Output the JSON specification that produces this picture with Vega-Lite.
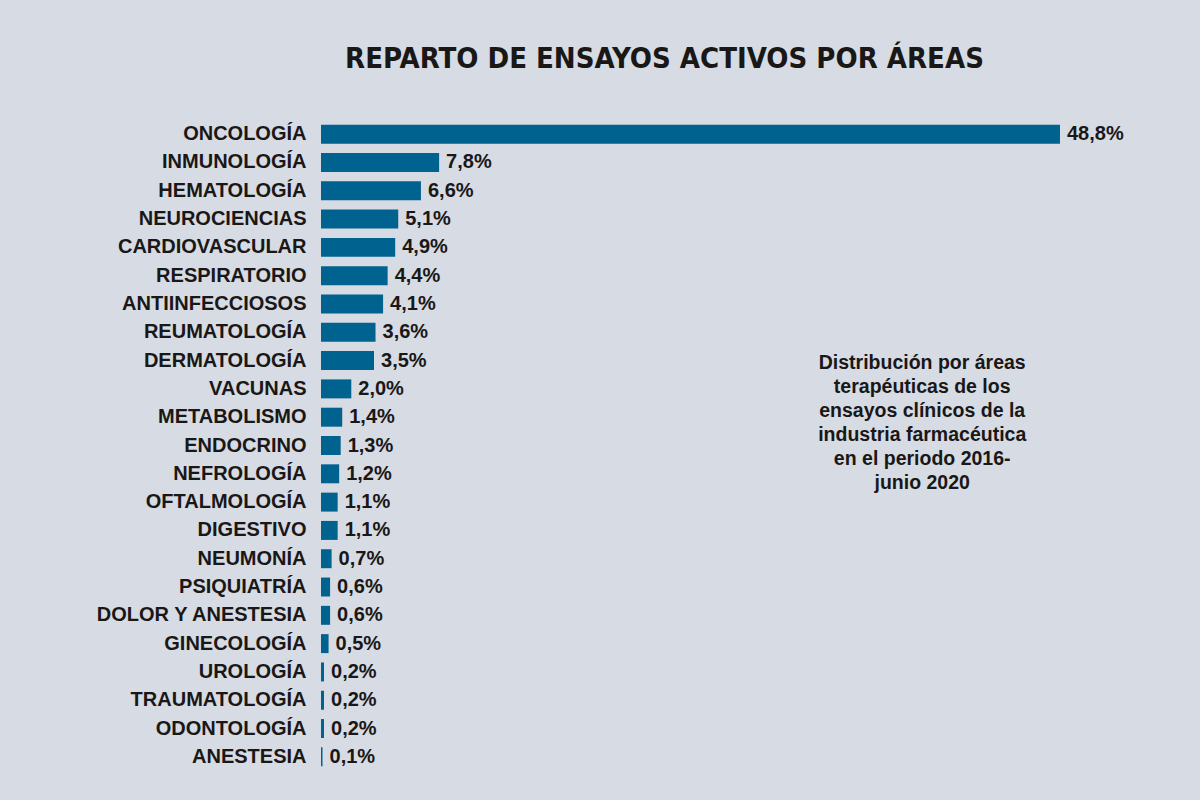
{
  "$schema": "https://vega.github.io/schema/vega-lite/v6.json",
  "autosize": "none",
  "width": 739,
  "height": 651,
  "padding": {"left": 321, "top": 120, "right": 140, "bottom": 29},
  "background": "#d7dbe3",
  "title": {
    "text": "REPARTO DE ENSAYOS ACTIVOS POR ÁREAS",
    "font": "DejaVu Sans Condensed",
    "fontWeight": "bold",
    "fontSize": 29,
    "color": "#1a1717",
    "anchor": "middle",
    "dx": -26,
    "offset": 46
  },
  "config": {
    "view": {"stroke": null},
    "text": {"font": "Liberation Sans"}
  },
  "datasets": {
    "areas": [
      {"area": "ONCOLOGÍA", "v": 48.8},
      {"area": "INMUNOLOGÍA", "v": 7.8},
      {"area": "HEMATOLOGÍA", "v": 6.6},
      {"area": "NEUROCIENCIAS", "v": 5.1},
      {"area": "CARDIOVASCULAR", "v": 4.9},
      {"area": "RESPIRATORIO", "v": 4.4},
      {"area": "ANTIINFECCIOSOS", "v": 4.1},
      {"area": "REUMATOLOGÍA", "v": 3.6},
      {"area": "DERMATOLOGÍA", "v": 3.5},
      {"area": "VACUNAS", "v": 2.0},
      {"area": "METABOLISMO", "v": 1.4},
      {"area": "ENDOCRINO", "v": 1.3},
      {"area": "NEFROLOGÍA", "v": 1.2},
      {"area": "OFTALMOLOGÍA", "v": 1.1},
      {"area": "DIGESTIVO", "v": 1.1},
      {"area": "NEUMONÍA", "v": 0.7},
      {"area": "PSIQUIATRÍA", "v": 0.6},
      {"area": "DOLOR Y ANESTESIA", "v": 0.6},
      {"area": "GINECOLOGÍA", "v": 0.5},
      {"area": "UROLOGÍA", "v": 0.2},
      {"area": "TRAUMATOLOGÍA", "v": 0.2},
      {"area": "ODONTOLOGÍA", "v": 0.2},
      {"area": "ANESTESIA", "v": 0.1}
    ],
    "note": [
      {"area": "DERMATOLOGÍA", "x": 39.7, "note": "Distribución por áreas\nterapéuticas de los\nensayos clínicos de la\nindustria farmacéutica\nen el periodo 2016-\njunio 2020"}
    ]
  },
  "layer": [
    {
      "data": {"name": "areas"},
      "mark": {"type": "bar", "color": "#00628f"},
      "encoding": {
        "y": {
          "field": "area",
          "type": "nominal",
          "sort": null,
          "scale": {"paddingInner": 0.33, "paddingOuter": 0.165},
          "axis": {
            "title": null,
            "domain": false,
            "ticks": false,
            "labelPadding": 15,
            "labelLimit": 300,
            "labelFont": "Liberation Sans",
            "labelFontWeight": "bold",
            "labelFontSize": 20,
            "labelColor": "#1a1717"
          }
        },
        "x": {
          "field": "v",
          "type": "quantitative",
          "scale": {"domain": [0, 48.8], "nice": false},
          "axis": null
        }
      }
    },
    {
      "data": {"name": "areas"},
      "transform": [
        {"calculate": "replace(format(datum.v, '.1f'), '.', ',') + '%'", "as": "label"}
      ],
      "mark": {"type": "text", "align": "left", "baseline": "middle", "dx": 7, "fontSize": 20, "fontWeight": "bold", "color": "#1a1717"},
      "encoding": {
        "y": {"field": "area", "type": "nominal", "sort": null},
        "x": {"field": "v", "type": "quantitative"},
        "text": {"field": "label"}
      }
    },
    {
      "data": {"name": "note"},
      "mark": {"type": "text", "align": "center", "baseline": "middle", "fontSize": 19.5, "fontWeight": "bold", "lineHeight": 24, "lineBreak": "\n", "color": "#1a1717", "dy": 2},
      "encoding": {
        "x": {"field": "x", "type": "quantitative"},
        "y": {"field": "area", "type": "nominal", "sort": null},
        "text": {"field": "note"}
      }
    }
  ]
}
